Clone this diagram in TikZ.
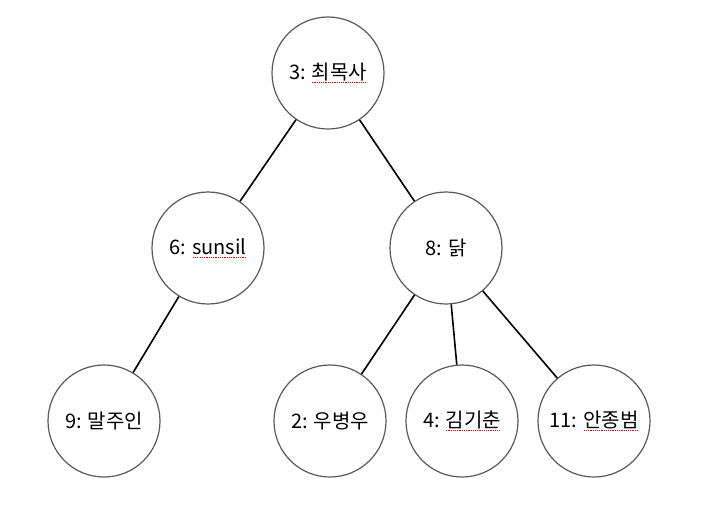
\documentclass[tikz,border=0pt]{standalone}
\usepackage{fontspec}
\setmainfont{Noto Sans CJK KR}
\usepackage{xcolor}
\newcommand\spellmark[1]{\leavevmode\setbox0\hbox{#1}\rlap{\copy0}\raisebox{-3.5pt}{\color{red!85!black}\hbox to \wd0{\xleaders\hbox to 2.2pt{\hss\rule{1.2pt}{1.2pt}\hss}\hfil}}}
\begin{document}
\begin{tikzpicture}[x=1pt,y=-1pt,
  treenode/.style={circle,draw=black!65,line width=1.2pt,minimum size=112pt,inner sep=0pt,font=\fontsize{20}{23}\selectfont},
  edge/.style={draw=black,line width=1.6pt}]
\useasboundingbox (0,0) rectangle (720,507);
\node[treenode] (n3) at (328,73) {3: \spellmark{최목사}};
\node[treenode] (n6) at (208,248) {6: \spellmark{sunsil}};
\node[treenode] (n8) at (446,248) {8: 닭};
\node[treenode] (n9) at (104,421) {9: 말주인};
\node[treenode] (n2) at (330,421) {2: 우병우};
\node[treenode] (n4) at (462,421) {4: \spellmark{김기춘}};
\node[treenode] (n11) at (594,421) {11: \spellmark{안종범}};
\draw[edge] (n3) -- (n6);
\draw[edge] (n3) -- (n8);
\draw[edge] (n6) -- (n9);
\draw[edge] (n8) -- (n2);
\draw[edge] (n8) -- (n4);
\draw[edge] (n8) -- (n11);
\end{tikzpicture}
\end{document}
